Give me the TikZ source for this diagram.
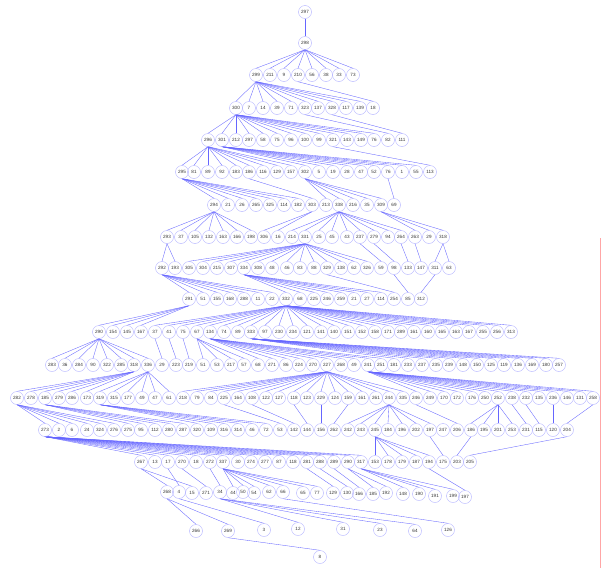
\documentclass[tikz,border=0pt]{standalone}
\usepackage{fontspec}
\setmainfont{Liberation Sans}
\usetikzlibrary{backgrounds}
\tikzset{
  vtx/.style={
    circle,
    draw=blue!30,
    line width=0.4pt,
    inner sep=0pt,
    minimum size=13pt,
    font=\fontsize{4.6}{5}\selectfont,
    text=black!80
  },
  tree edge/.style={
    draw=blue!60,
    line width=0.35pt
  }
}

\begin{document}
\begin{tikzpicture}[x=1pt, y=-1pt]
    % pixel grid of the reference, y downwards
    \useasboundingbox (0,0) rectangle (603,568);

    % levels 0 - 5
    \node[vtx] (n297) at (305,12) {297};
    \node[vtx] (n298) at (305,43) {298};
    \foreach \x/\t in {256/299, 270/211, 284/9, 298/210, 312/56, 326/38, 339/33, 353/73}
      \node[vtx] (n\t) at (\x,75) {\t};
    \foreach \x/\t in {236/300, 249/7, 263/14, 277/39, 291/71, 305/323, 318/137, 332/328, 346/117, 360/139, 373/18}
      \node[vtx] (n\t) at (\x,108) {\t};
    \foreach \x/\t in {208/296, 222/301, 236/212, 263/58, 277/75, 291/96, 305/100, 319/99, 333/321, 347/143, 361/149, 374/76, 388/82, 402/111}
      \node[vtx] (n\t) at (\x,140) {\t};
    \node[vtx] (n297b) at (249,140) {297};
    \foreach \x/\t in {182/295, 194/81, 208/89, 222/92, 236/183, 249/186, 263/116, 277/129, 291/157, 305/302, 319/5, 333/19, 347/28, 361/47, 374/52, 402/1, 416/55, 430/113}
      \node[vtx] (n\t) at (\x,172) {\t};
    \node[vtx] (n76b) at (388,172) {76};

    % levels 6 - 9
    \foreach \x/\t in {214/294, 228/21, 242/26, 256/265, 270/325, 284/114, 298/182, 312/303, 326/213, 339/338, 353/216, 367/35, 381/309, 394/69}
      \node[vtx] (n\t) at (\x,205) {\t};
    \foreach \x/\t in {167/293, 181/37, 195/105, 209/132, 223/163, 237/166, 251/198, 264/306, 278/16, 292/214, 305/331, 319/25, 332/45, 347/43, 360/237, 374/279, 388/94, 401/264, 415/263, 429/29, 443/318}
      \node[vtx] (n\t) at (\x,237) {\t};
    \foreach \x/\t in {162/292, 175/193, 189/305, 203/304, 217/215, 231/307, 244/334, 258/308, 272/48, 287/46, 300/83, 314/88, 327/329, 341/138, 354/62, 367/326, 381/59, 394/98, 408/133, 421/147, 435/311, 449/63}
      \node[vtx] (n\t) at (\x,268) {\t};
    \foreach \x/\t in {189/291, 203/51, 217/155, 230/168, 244/288, 258/11, 272/22, 286/332, 300/68, 314/225, 327/246, 341/259, 367/27, 394/254, 408/85, 421/312}
      \node[vtx] (n\t) at (\x,299) {\t};
    \node[vtx] (n21b) at (354,299) {21};
    \node[vtx] (n114b) at (381,299) {114};

    % levels 10 - 13
    \foreach \x/\t in {99/290, 113/154, 127/145, 141/167, 169/41, 197/67, 210/134, 224/74, 251/333, 265/97, 279/230, 293/234, 307/121, 321/141, 334/140, 348/151, 362/152, 375/158, 388/171, 401/289, 414/161, 428/160, 442/165, 483/255, 497/256, 511/313}
      \node[vtx] (n\t) at (\x,332) {\t};
    \node[vtx] (n37b) at (155,332) {37};
    \node[vtx] (n75b) at (183,332) {75};
    \node[vtx] (n89b) at (238,332) {89};
    \node[vtx] (n163b) at (456,332) {163};
    \node[vtx] (n167b) at (469,332) {167};
    \foreach \x/\t in {52/283, 65/36, 79/284, 93/90, 107/322, 121/285, 148/336, 176/223, 189/219, 217/53, 231/217, 244/57, 272/271, 286/86, 299/224, 313/270, 327/227, 341/268, 354/49, 368/241, 381/251, 394/181, 408/233, 436/235, 449/239, 463/148, 477/150, 491/125, 504/119, 518/136, 532/169, 546/180, 559/257}
      \node[vtx] (n\t) at (\x,365) {\t};
    \node[vtx] (n318b) at (134,365) {318};
    \node[vtx] (n29b) at (162,365) {29};
    \node[vtx] (n51b) at (203,365) {51};
    \node[vtx] (n68b) at (258,365) {68};
    \node[vtx] (n237b) at (422,365) {237};
    \foreach \x/\t in {17/282, 31/278, 45/185, 72/286, 87/173, 100/319, 114/315, 128/177, 169/61, 183/218, 197/79, 211/84, 238/164, 252/108, 266/122, 279/127, 294/118, 307/123, 321/229, 335/124, 348/159, 376/261, 389/244, 403/335, 430/249, 444/170, 457/172, 472/176, 485/250, 498/252, 512/238, 526/232, 539/135, 553/236, 567/146, 580/131, 593/258}
      \node[vtx] (n\t) at (\x,398) {\t};
    \node[vtx] (n279b) at (59,398) {279};
    \node[vtx] (n49b) at (142,398) {49};
    \node[vtx] (n47b) at (155,398) {47};
    \node[vtx] (n225b) at (224,398) {225};
    \node[vtx] (n161b) at (362,398) {161};
    \node[vtx] (n246b) at (416,398) {246};
    \foreach \x/\t in {45/273, 59/2, 72/6, 87/24, 100/324, 114/276, 128/275, 141/95, 155/112, 169/280, 183/287, 197/320, 211/109, 224/316, 238/314, 266/72, 294/142, 307/144, 321/156, 334/262, 348/242, 361/243, 375/245, 388/184, 402/196, 416/202, 430/197, 443/247, 457/206, 484/195, 498/201, 512/253, 526/231, 539/115, 553/120, 567/204}
      \node[vtx] (n\t) at (\x,430) {\t};
    \node[vtx] (n46b) at (252,430) {46};
    \node[vtx] (n53b) at (280,430) {53};
    \node[vtx] (n186b) at (471,430) {186};

    % levels 14 - 17
    \foreach \x/\t in {141/267, 155/13, 168/17, 210/272, 223/337, 238/30, 251/274, 265/277, 279/87, 307/281, 361/317, 375/153, 388/178, 402/179, 416/187, 429/194, 443/175, 457/203, 470/205}
      \node[vtx] (n\t) at (\x,462) {\t};
    \node[vtx] (n270b) at (182,462) {270};
    \node[vtx] (n18b) at (196,462) {18};
    \node[vtx] (n118b) at (293,462) {118};
    \node[vtx] (n288b) at (320,462) {288};
    \node[vtx] (n289b) at (334,462) {289};
    \node[vtx] (n290b) at (348,462) {290};
    \foreach \x/\y/\t in {179/492/4, 192/493/15, 220/492/34, 233/493/44, 243/492/50, 254/493/54, 283/492/66, 303/493/65, 317/493/77, 347/493/130, 386/493/192, 419/494/190, 435/496/191, 453/496/199}
      \node[vtx] (n\t) at (\x,\y) {\t};
    \node[vtx] (n268b) at (167,492) {268};
    \node[vtx] (n271b) at (206,493) {271};
    \node[vtx] (n62b) at (269,492) {62};
    \node[vtx] (n129b) at (333,493) {129};
    \node[vtx] (n166b) at (359,494) {166};
    \node[vtx] (n185b) at (373,494) {185};
    \node[vtx] (n148b) at (403,494) {148};
    \node[vtx] (n197b) at (465,497) {197};
    \foreach \x/\y/\t in {196/531/266, 228/531/269, 264/530/3, 298/529/12, 343/529/31, 380/530/23, 415/531/64, 448/530/126}
      \node[vtx] (n\t) at (\x,\y) {\t};
    \node[vtx] (n8) at (320,557) {8};

    % edges, parent/{children}
    \begin{pgfonlayer}{background}
      \fill[white] (0,0) rectangle (603,568);
      \draw[red!35, line width=0.6pt] (600.5,238) -- (600.5,568);
      \foreach \p/\cs in {
          297/{298}, 298/{299,211,9,210,56,38,33,73},
          299/{300,7,14,39,71,323,137,328,117,139}, 210/{18},
          300/{296,301,212,297b,58,75,96,100,99,321,143,149,76}, 323/{82}, 328/{111},
          296/{295,81,89,92,183,186,116,129,157}, 301/{302,5,19,28,47,52,76b,1,55}, 321/{113},
          295/{294,21,26,265,325,114,182}, 186/{303}, 302/{213,338,216,35,309}, 76b/{69},
          294/{293,37,105,132,163,166,198}, 303/{306,16},
          338/{214,331,25,45,43,237,279,94,264}, 309/{263,29,318},
          293/{292,193}, 331/{305,304,215,307,334,308,48,46,83,88,329,138,62,326},
          237/{59}, 279/{98}, 264/{133}, 263/{147}, 318/{311,63},
          292/{291,51,155,168,288,11,22}, 334/{332,68,225,246,259,21b,27,114b},
          329/{254}, 98/{85}, 311/{312},
          291/{290,154,145,167},
          332/{37b,41,75b,67,134,74,89b,333,97,230,234,121,141,140,151,152,158,171,289,161,160,165,163b,167b,255,256,313},
          290/{283,36,284,90,322,285,318b,336}, 37b/{29b}, 41/{223}, 75b/{219},
          67/{51b,53,217,57}, 134/{68b,271,86,224,270,227,268,49,241,251},
          333/{181,233,237b,235,239,148,150,125,119,136,169,180,257},
          318b/{282,278,185,279b,286,173}, 336/{319,315,177,49b,47b,61},
          227/{218,79,84,225b,164,108,122,127,118,123,229,124,159,161b,261,244,335},
          241/{246b,249,170,172,176,250,252,238,232,135,236,146,131,258},
          282/{273,2,6,24,324,276}, 185/{275,95,112,280,287}, 319/{320,109,316,314,46b,72},
          225b/{53b}, 108/{142}, 118/{144}, 229/{156}, 159/{262},
          244/{242,243,245,184,196,202,197}, 246b/{206}, 252/{186b,195,201,253},
          238/{231}, 232/{115}, 236/{120}, 258/{204},
          273/{267,13,17,270b,18b,272,337,30,274,277,87,118b,281,288b,289b,290b,317},
          245/{153,178,179,187,194}, 197/{175}, 186b/{203}, 204/{205},
          267/{268b,15}, 17/{4}, 270b/{271b}, 272/{34}, 337/{44,50,54,62b,66,65,77},
          281/{129b}, 288b/{130}, 289b/{166b}, 290b/{185b,192}, 317/{148b,190,191,199}, 194/{197b},
          268b/{266,269}, 4/{3}, 34/{12,31,23,64}, 66/{126}, 269/{8}}
        \foreach \c in \cs
          \draw[tree edge] (n\p.south) -- (n\c.north);
    \end{pgfonlayer}
\end{tikzpicture}
\end{document}
